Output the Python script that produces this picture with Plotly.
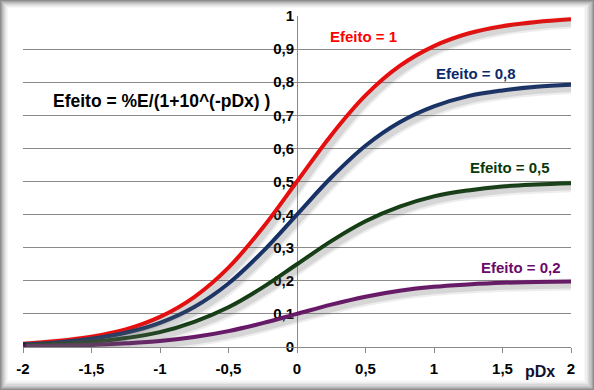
import plotly.graph_objects as go

# ---- data ----
pdx = [-2.0, -1.75, -1.5, -1.25, -1.0, -0.75, -0.5, -0.25, 0.0,
       0.25, 0.5, 0.75, 1.0, 1.25, 1.5, 1.75, 2.0]
efeito_1 = [0.010, 0.018, 0.031, 0.053, 0.091, 0.151, 0.240, 0.360, 0.500,
            0.640, 0.760, 0.849, 0.909, 0.947, 0.969, 0.982, 0.990]
efeito_08 = [0.008, 0.014, 0.025, 0.043, 0.073, 0.121, 0.192, 0.288, 0.400,
             0.512, 0.608, 0.679, 0.727, 0.758, 0.775, 0.786, 0.792]
efeito_05 = [0.005, 0.009, 0.015, 0.027, 0.045, 0.076, 0.120, 0.180, 0.250,
             0.320, 0.380, 0.424, 0.455, 0.473, 0.485, 0.491, 0.495]
efeito_02 = [0.002, 0.004, 0.006, 0.011, 0.018, 0.030, 0.048, 0.072, 0.100,
             0.128, 0.152, 0.170, 0.182, 0.189, 0.194, 0.196, 0.198]

series_names = ["Efeito = 1", "Efeito = 0,8", "Efeito = 0,5", "Efeito = 0,2"]
series_values = [efeito_1, efeito_08, efeito_05, efeito_02]
series_colors = ["#ff0000", "#0c2a68", "#083808", "#6a0a6a"]

x_tickvals = [-2, -1.5, -1, -0.5, 0, 0.5, 1, 1.5, 2]
x_ticktext = ["-2", "-1,5", "-1", "-0,5", "0", "0,5", "1", "1,5", "2"]
y_tickvals = [0, 0.1, 0.2, 0.3, 0.4, 0.5, 0.6, 0.7, 0.8, 0.9, 1]
y_ticktext = ["0", "0,1", "0,2", "0,3", "0,4", "0,5", "0,6", "0,7", "0,8", "0,9", "1"]

# ---- geometry ----
W, H = 594, 390
ML, MR, MT, MB = 23, 23, 16, 43
PW, PH = W - ML - MR, H - MT - MB
XMIN, XMAX, YMIN, YMAX = -2, 2, 0, 1

def px_x(p):
    return (p - ML) / PW

def px_y(p):
    return (H - MB - p) / PH

FONT = "Liberation Sans, Arial, sans-serif"

fig = go.Figure()

# shadows (same data on offset hidden axes)
sh_dx, sh_dy = 3, 3
for vals in series_values:
    for w, op in [(12, 0.10), (8, 0.16)]:
        fig.add_trace(go.Scatter(
            x=pdx, y=vals, mode="lines", xaxis="x2", yaxis="y2",
            line=dict(color="#606060", width=w, shape="spline"),
            opacity=op, hoverinfo="skip", showlegend=False))

for name, vals, col in zip(series_names, series_values, series_colors):
    fig.add_trace(go.Scatter(
        x=pdx, y=vals, mode="lines", name=name,
        line=dict(color=col, width=4, shape="spline"),
        showlegend=False))

# frame
frame = [
    (1, 1, 593, 389, "#a4a4a4"),
    (2, 2, 592, 388, "#b8b8b8"),
    (3, 3, 591, 387, "#c9c9c9"),
    (4, 4, 589, 386, "#d8d8d8"),
    (5, 5, 588, 384, "#e5e5e5"),
    (6, 6, 587, 383, "#efefef"),
    (7, 7, 585, 382, "#f7f7f7"),
    (8, 8, 584, 380, "#ffffff"),
]
shapes = []
for x0, y0, x1, y1, c in frame:
    shapes.append(dict(type="rect", xref="paper", yref="paper",
                       x0=px_x(x0), x1=px_x(x1), y0=px_y(y1), y1=px_y(y0),
                       fillcolor=c, line=dict(width=0), layer="below"))

annotations = [
    dict(x=0.226, y=0.937, text="Efeito = 1", color=series_colors[0], size=15),
    dict(x=1.0, y=0.825, text="Efeito = 0,8", color=series_colors[1], size=15),
    dict(x=1.246, y=0.542, text="Efeito = 0,5", color=series_colors[2], size=15),
    dict(x=1.328, y=0.240, text="Efeito = 0,2", color=series_colors[3], size=15),
    dict(x=-1.795, y=0.743, text="Efeito = %E/(1+10^(-pDx) )", color="#000000", size=17.5),
]
ann = []
for a in annotations:
    ann.append(dict(x=a["x"], y=a["y"], xref="x", yref="y", text="<b>%s</b>" % a["text"],
                    showarrow=False, xanchor="left", yanchor="middle",
                    font=dict(family=FONT, size=a["size"], color=a["color"])))
ann.append(dict(x=px_x(523), y=px_y(371), xref="paper", yref="paper", text="<b>pDx</b>",
                showarrow=False, xanchor="left", yanchor="middle",
                font=dict(family=FONT, size=16, color="#101030")))

tickfont = dict(family=FONT, size=15, color="#000000", weight="bold")

fig.update_layout(
    width=W, height=H, autosize=False,
    margin=dict(l=ML, r=MR, t=MT, b=MB, pad=0, autoexpand=False),
    paper_bgcolor="#8e8e8e",
    plot_bgcolor="rgba(0,0,0,0)",
    showlegend=False,
    shapes=shapes,
    annotations=ann,
    xaxis=dict(range=[XMIN, XMAX], tickvals=x_tickvals, ticktext=x_ticktext,
               showgrid=False, zeroline=False, showline=True, linecolor="#8a8a8a",
               linewidth=1, ticks="outside", ticklen=5, tickcolor="#8a8a8a",
               tickfont=tickfont, automargin=False,
               ticklabelstandoff=3, fixedrange=True),
    yaxis=dict(range=[YMIN, YMAX], tickvals=y_tickvals, ticktext=y_ticktext,
               anchor="free", position=0.5, side="left",
               showgrid=True, gridcolor="#8a8a8a", gridwidth=1,
               zeroline=False, showline=True, linecolor="#8a8a8a", linewidth=1,
               ticks="", layer="below traces", automargin=False,
               tickfont=tickfont, fixedrange=True),
    xaxis2=dict(overlaying="x", range=[XMIN - sh_dx * (XMAX - XMIN) / PW, XMAX - sh_dx * (XMAX - XMIN) / PW],
                visible=False, fixedrange=True),
    yaxis2=dict(overlaying="y", range=[YMIN + sh_dy * (YMAX - YMIN) / PH, YMAX + sh_dy * (YMAX - YMIN) / PH],
                visible=False, fixedrange=True),
)

fig.write_html("out.html", config={"displayModeBar": False},
               post_script="document.body.style.margin='0';document.body.style.padding='0';")
